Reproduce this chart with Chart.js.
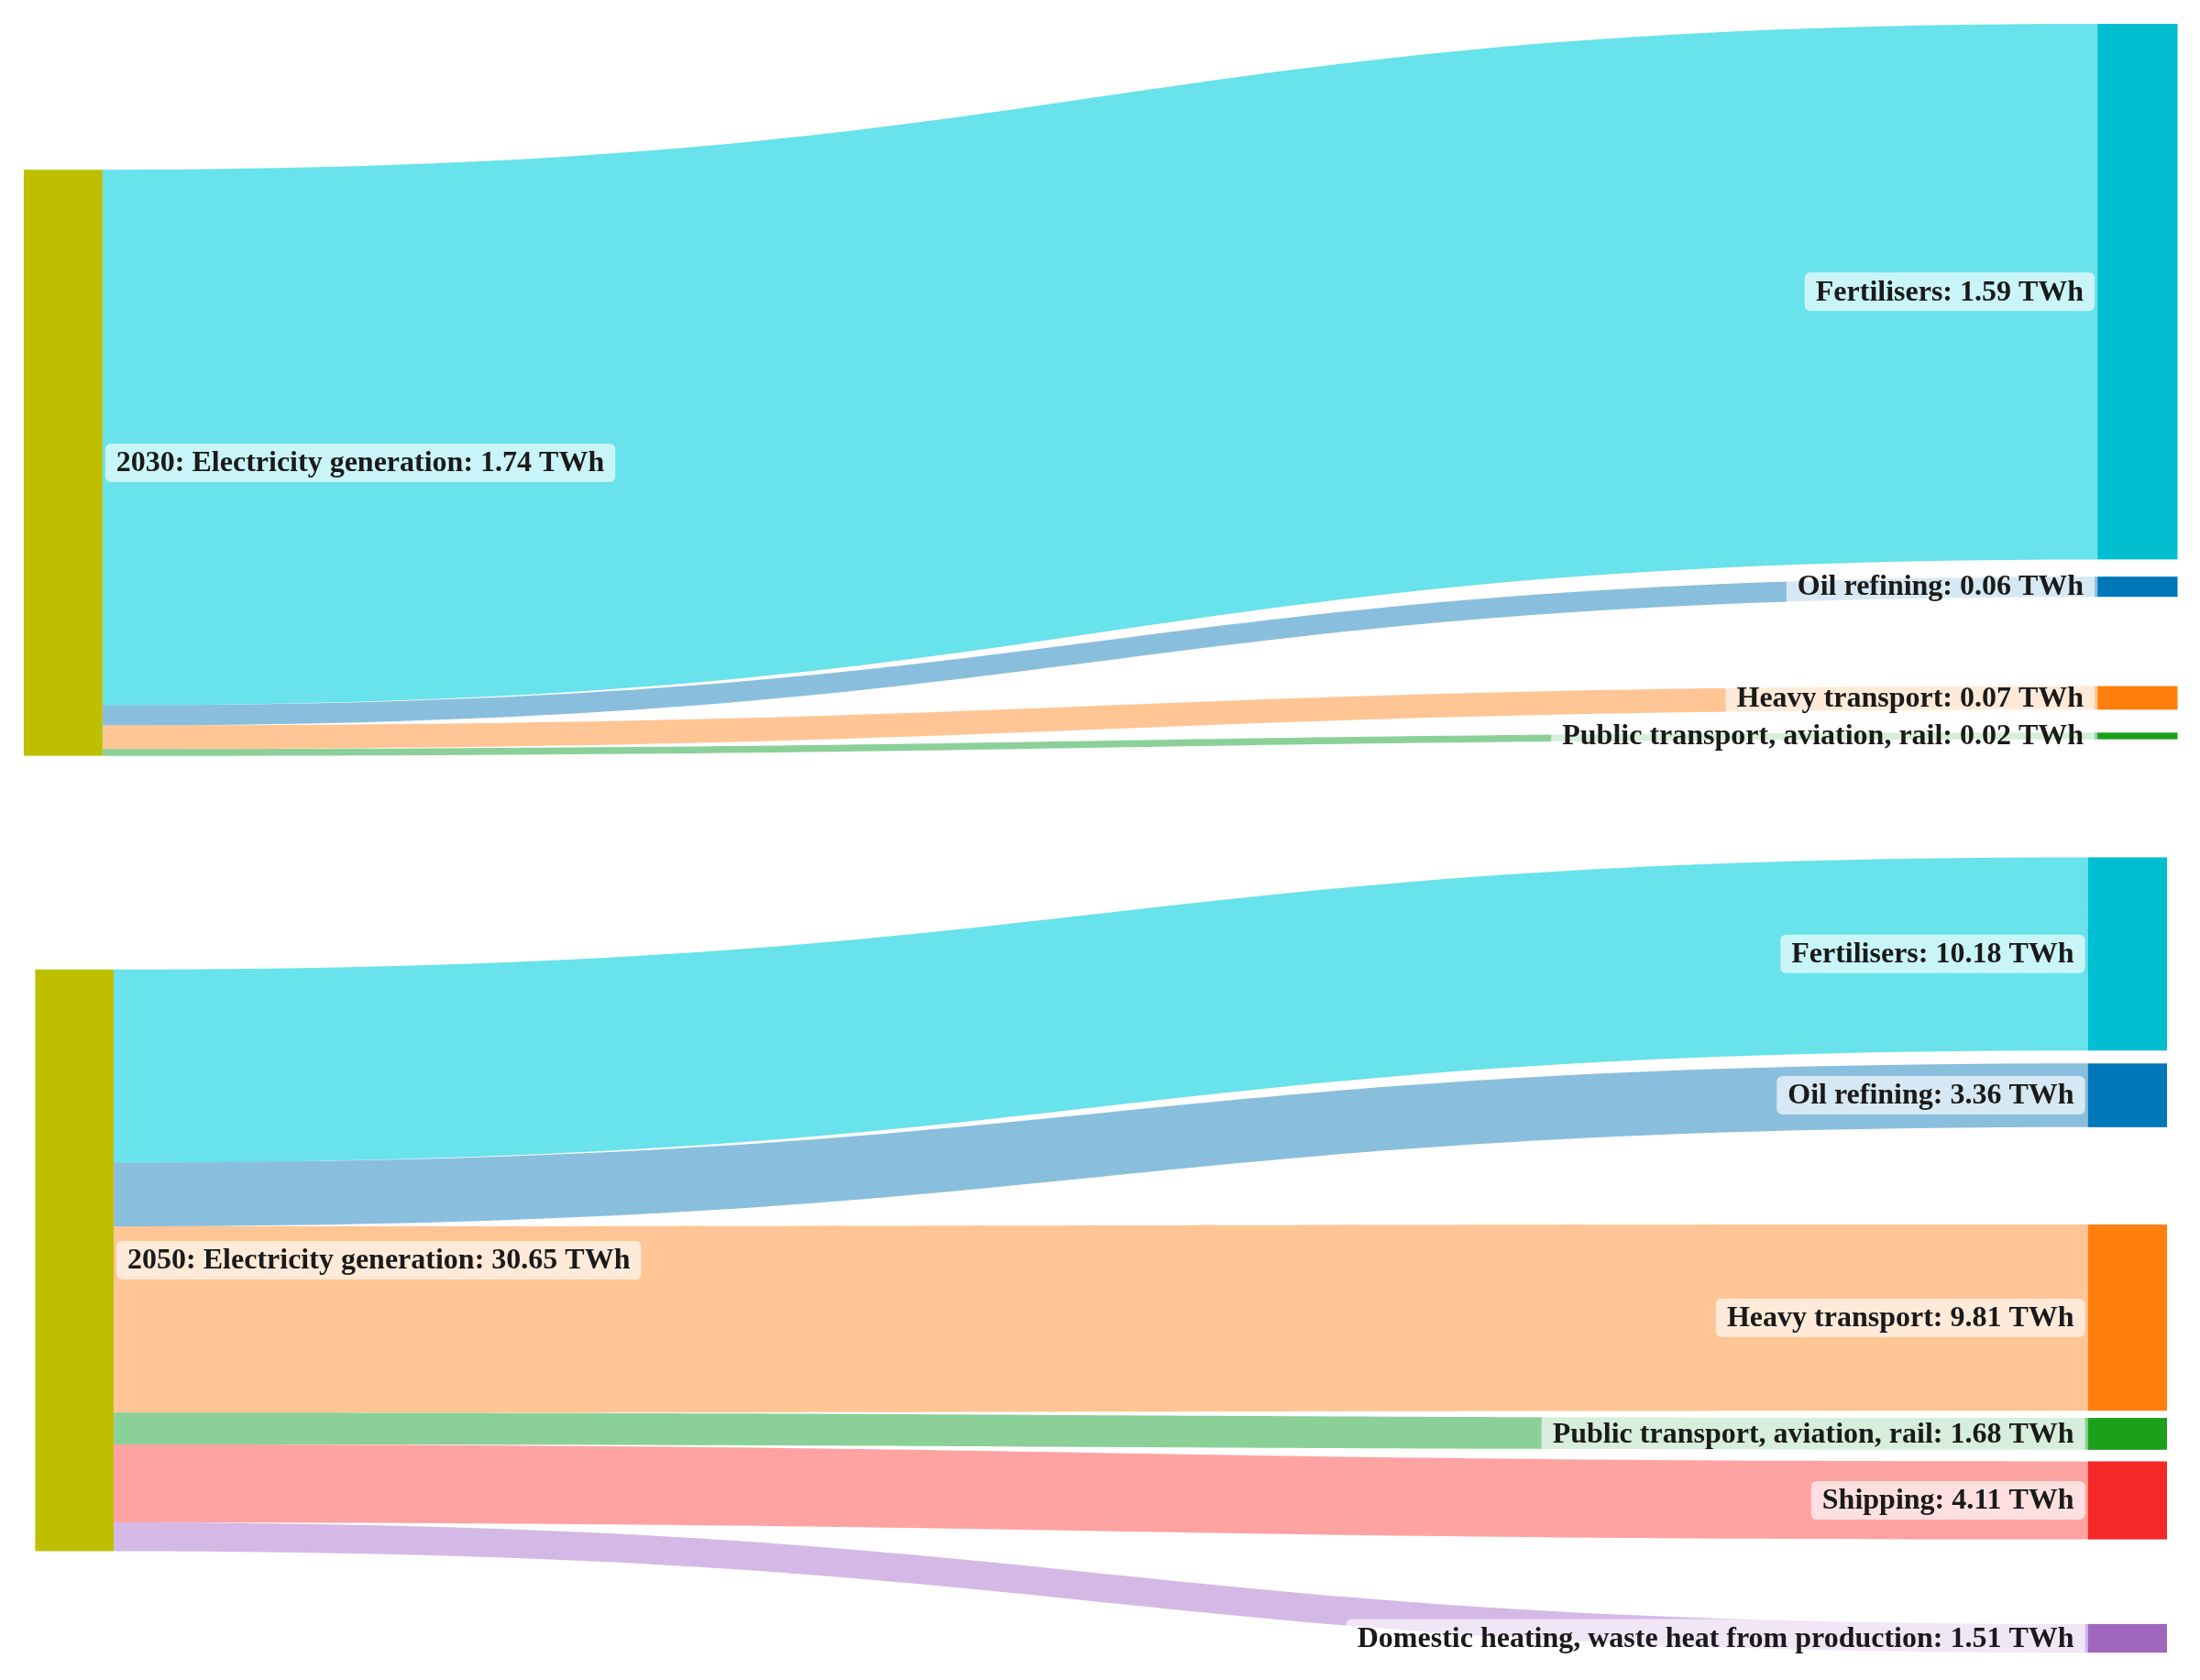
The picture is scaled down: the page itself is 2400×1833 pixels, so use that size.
<!DOCTYPE html>
<html><head><meta charset="utf-8">
<script src="https://cdn.jsdelivr.net/npm/chart.js@4"></script>
<style>body{margin:0;background:#fff}canvas{display:block}</style>
</head><body>
<canvas id="c1" width="2400" height="911"></canvas>
<canvas id="c2" width="2400" height="922"></canvas>
<script>
// Data
const targets2030 = ["Fertilisers","Oil refining","Heavy transport","Public transport, aviation, rail"];
const values2030 = [1.59, 0.06, 0.07, 0.02];
const source2030 = "2030: Electricity generation";
const total2030 = 1.74;
const targets2050 = ["Fertilisers","Oil refining","Heavy transport","Public transport, aviation, rail","Shipping","Domestic heating, waste heat from production"];
const values2050 = [10.18, 3.36, 9.81, 1.68, 4.11, 1.51];
const source2050 = "2050: Electricity generation";
const total2050 = 30.65;

// Layout (node tops in value units, x in fractions)
const tops2030 = [-0.433, 1.208, 1.533, 1.671];
const tops2050 = [-5.91, 4.95, 13.44, 23.63, 25.92, 34.49];
const nodeColors = ["#00bed0","#0077b8","#ff7f0e","#1ca01c","#f52828","#a066c0"];
const linkColors = ["rgba(23,210,225,0.65)","rgba(31,130,190,0.52)","rgba(255,150,60,0.55)","rgba(44,170,70,0.55)","rgba(255,100,100,0.6)","rgba(160,100,200,0.45)"];

function sankeyPlugin(cfg){
  return {id:'sk',afterDraw(chart){
    const ctx=chart.ctx, xs=chart.scales.x, ys=chart.scales.y;
    const X=v=>xs.getPixelForValue(v), Y=v=>ys.getPixelForValue(v);
    const lx0=X(cfg.lx[0]), lx1=X(cfg.lx[1]), rx0=X(cfg.rx[0]), rx1=X(cfg.rx[1]);
    let acc=0;
    cfg.values.forEach((v,i)=>{
      const a0=Y(acc), a1=Y(acc+v), b0=Y(cfg.tops[i]), b1=Y(cfg.tops[i]+v);
      const mx=(lx1+rx0)/2;
      ctx.fillStyle=linkColors[i];
      ctx.beginPath();
      ctx.moveTo(lx1,a0);
      ctx.bezierCurveTo(mx,a0,mx,b0,rx0,b0);
      ctx.lineTo(rx0,b1);
      ctx.bezierCurveTo(mx,b1,mx,a1,lx1,a1);
      ctx.closePath();ctx.fill();
      acc+=v;
    });
    ctx.fillStyle="#bdbf00";
    ctx.fillRect(lx0,Y(0),lx1-lx0,Y(cfg.total)-Y(0));
    cfg.values.forEach((v,i)=>{
      ctx.fillStyle=nodeColors[i];
      ctx.fillRect(rx0,Y(cfg.tops[i]),rx1-rx0,Math.max(Y(cfg.tops[i]+v)-Y(cfg.tops[i]),4));
    });
    ctx.font="bold 32px 'Liberation Serif', 'DejaVu Serif', serif";
    ctx.textBaseline="middle";
    function label(t,x,y,align){
      const w=ctx.measureText(t).width, h=42, pad=12;
      const bx = align==='left'? x : x-w-2*pad;
      ctx.fillStyle="rgba(255,255,255,0.65)";
      ctx.beginPath();ctx.roundRect(bx,y-h/2,w+2*pad,h,6);ctx.fill();
      ctx.fillStyle="#1a1a1a";ctx.textAlign='left';
      ctx.fillText(t,bx+pad,y+1);
    }
    label(cfg.source+": "+cfg.total.toFixed(2)+" TWh", lx1+3, Y(cfg.total/2), 'left');
    cfg.values.forEach((v,i)=>{
      label(cfg.targets[i]+": "+v.toFixed(2)+" TWh", rx0-3, Y(cfg.tops[i]+v/2), 'right');
    });
  }};
}
function make(id,cfg,ymin,ymax){
  new Chart(document.getElementById(id),{
    type:'scatter',
    data:{datasets:[{data:[]}]},
    options:{responsive:false,animation:false,devicePixelRatio:1,
      layout:{padding:0},
      plugins:{legend:{display:false},tooltip:{enabled:false}},
      scales:{x:{type:'linear',min:0,max:1,display:false},
              y:{type:'linear',min:ymin,max:ymax,reverse:true,display:false}}},
    plugins:[sankeyPlugin(cfg)]
  });
}
make('c1',{targets:targets2030,values:values2030,source:source2030,total:total2030,tops:tops2030,
  lx:[0.0108,0.0466],rx:[0.9534,0.9898]},-0.504,1.975);
make('c2',{targets:targets2050,values:values2050,source:source2050,total:total2050,tops:tops2050,
  lx:[0.016,0.0517],rx:[0.949,0.985]},-7.09,37.44);
</script></body></html>
